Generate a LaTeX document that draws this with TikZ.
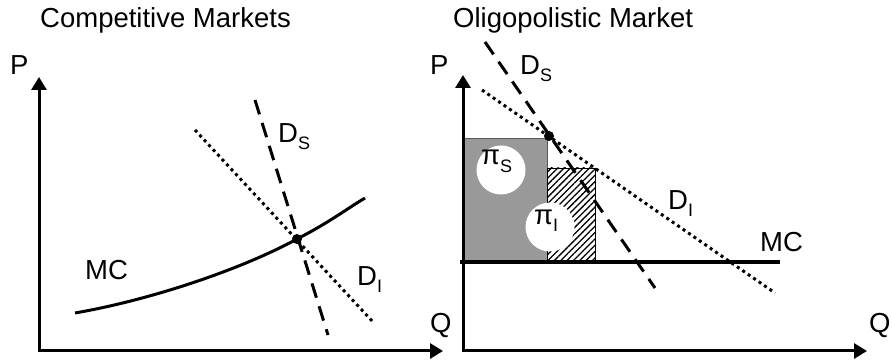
\documentclass[tikz,border=0pt]{standalone}
\usepackage{fontspec}
\setmainfont{Liberation Sans}
\usetikzlibrary{arrows.meta,patterns.meta}
\newcommand\mysub[1]{\raisebox{-7pt}{\fontsize{18}{20}\selectfont #1}}
\begin{document}
\begin{tikzpicture}[x=1pt,y=-1pt,
  axis/.style={line width=3pt, line join=miter, {Triangle[width=15pt,length=13pt]}-{Triangle[width=15pt,length=13pt]}},
  lbl/.style={anchor=base west, inner sep=0pt, font=\fontsize{27.5}{30}\selectfont},
  dashline/.style={line width=3pt, dash pattern=on 15pt off 9pt},
  dotline/.style={line width=3pt, dash pattern=on 3pt off 3.6pt},
  curve/.style={line width=3pt},
  mcline/.style={line width=4.5pt},
  eqdot/.style={circle, fill=black, inner sep=0pt, minimum size=10pt},
  hole/.style={circle, fill=white, inner sep=0pt, minimum size=49pt},
  greybox/.style={fill=black!40, draw=black!65, line width=0.8pt},
  hatchbox/.style={pattern={Lines[angle=45,distance=4.5pt,line width=1.3pt]}, draw=black, line width=0.8pt}
]
\useasboundingbox (0,0) rectangle (892,363);

% ---------- left panel ----------
\node[lbl] (titleL) at (40,28) {Competitive Markets};
\coordinate (Lorig) at (39,351);
\coordinate (Ltop) at (39,77);
\coordinate (Lright) at (443,351);
\draw[axis] (Ltop) -- (Lorig) -- (Lright);
\node[lbl] (PL) at (10,75) {P};
\node[lbl] (QL) at (430,333) {Q};

\coordinate (DSLa) at (255,100);
\coordinate (DSLb) at (328,335);
\coordinate (DILa) at (195,130);
\coordinate (DILb) at (373,322);
\coordinate (MCLa) at (75,313);
\coordinate (eqLc) at (297,239);
\coordinate (MCLb) at (365,198);
\draw[dashline] (DSLa) -- (DSLb);
\draw[dotline] (DILa) -- (DILb);
\draw[curve] (MCLa) .. controls (150,300) and (240,270) .. (eqLc)
                   .. controls (330,222) and (345,210) .. (MCLb);
\node[eqdot] (eqL) at (eqLc) {};

\node[lbl] (MCL) at (85,280) {MC};
\node[lbl] (DSL) at (278,143) {D\mysub{S}};
\node[lbl] (DIL) at (357,286) {D\mysub{I}};

% ---------- right panel ----------
\node[lbl] (titleR) at (453,28) {Oligopolistic Market};
\coordinate (Rorig) at (463,351);
\coordinate (Rtop) at (463,75);
\coordinate (Rright) at (867,351);

\path[greybox] (463,138) rectangle (547,262);
\path[hatchbox] (547,168) rectangle (595,262);
\node[hole] (holeS) at (501,170) {};
\node[hole] (holeI) at (550,227) {};

\draw[axis] (Rtop) -- (Rorig) -- (Rright);
\node[lbl] (PR) at (430,75) {P};
\node[lbl] (QR) at (869,333) {Q};

\coordinate (MCRa) at (460,262);
\coordinate (MCRb) at (780,262);
\draw[mcline] (MCRa) -- (MCRb);

\coordinate (DSRa) at (485,42);
\coordinate (DSRb) at (655,288);
\coordinate (DIRa) at (482,90);
\coordinate (DIRb) at (775,293);
\draw[dashline] (DSRa) -- (DSRb);
\draw[dotline] (DIRa) -- (DIRb);
\node[eqdot] (eqR) at (549,136) {};

\node[lbl] (DSR) at (520,75) {D\mysub{S}};
\node[lbl] (DIR) at (668,210) {D\mysub{I}};
\node[lbl] (MCR) at (760,252) {MC};
\node[lbl] (piS) at (481,165) {π\raisebox{-8pt}{\fontsize{18}{20}\selectfont S}};
\node[lbl] (piI) at (534,225) {π\raisebox{-7pt}{\fontsize{18}{20}\selectfont I}};
\end{tikzpicture}
\end{document}
